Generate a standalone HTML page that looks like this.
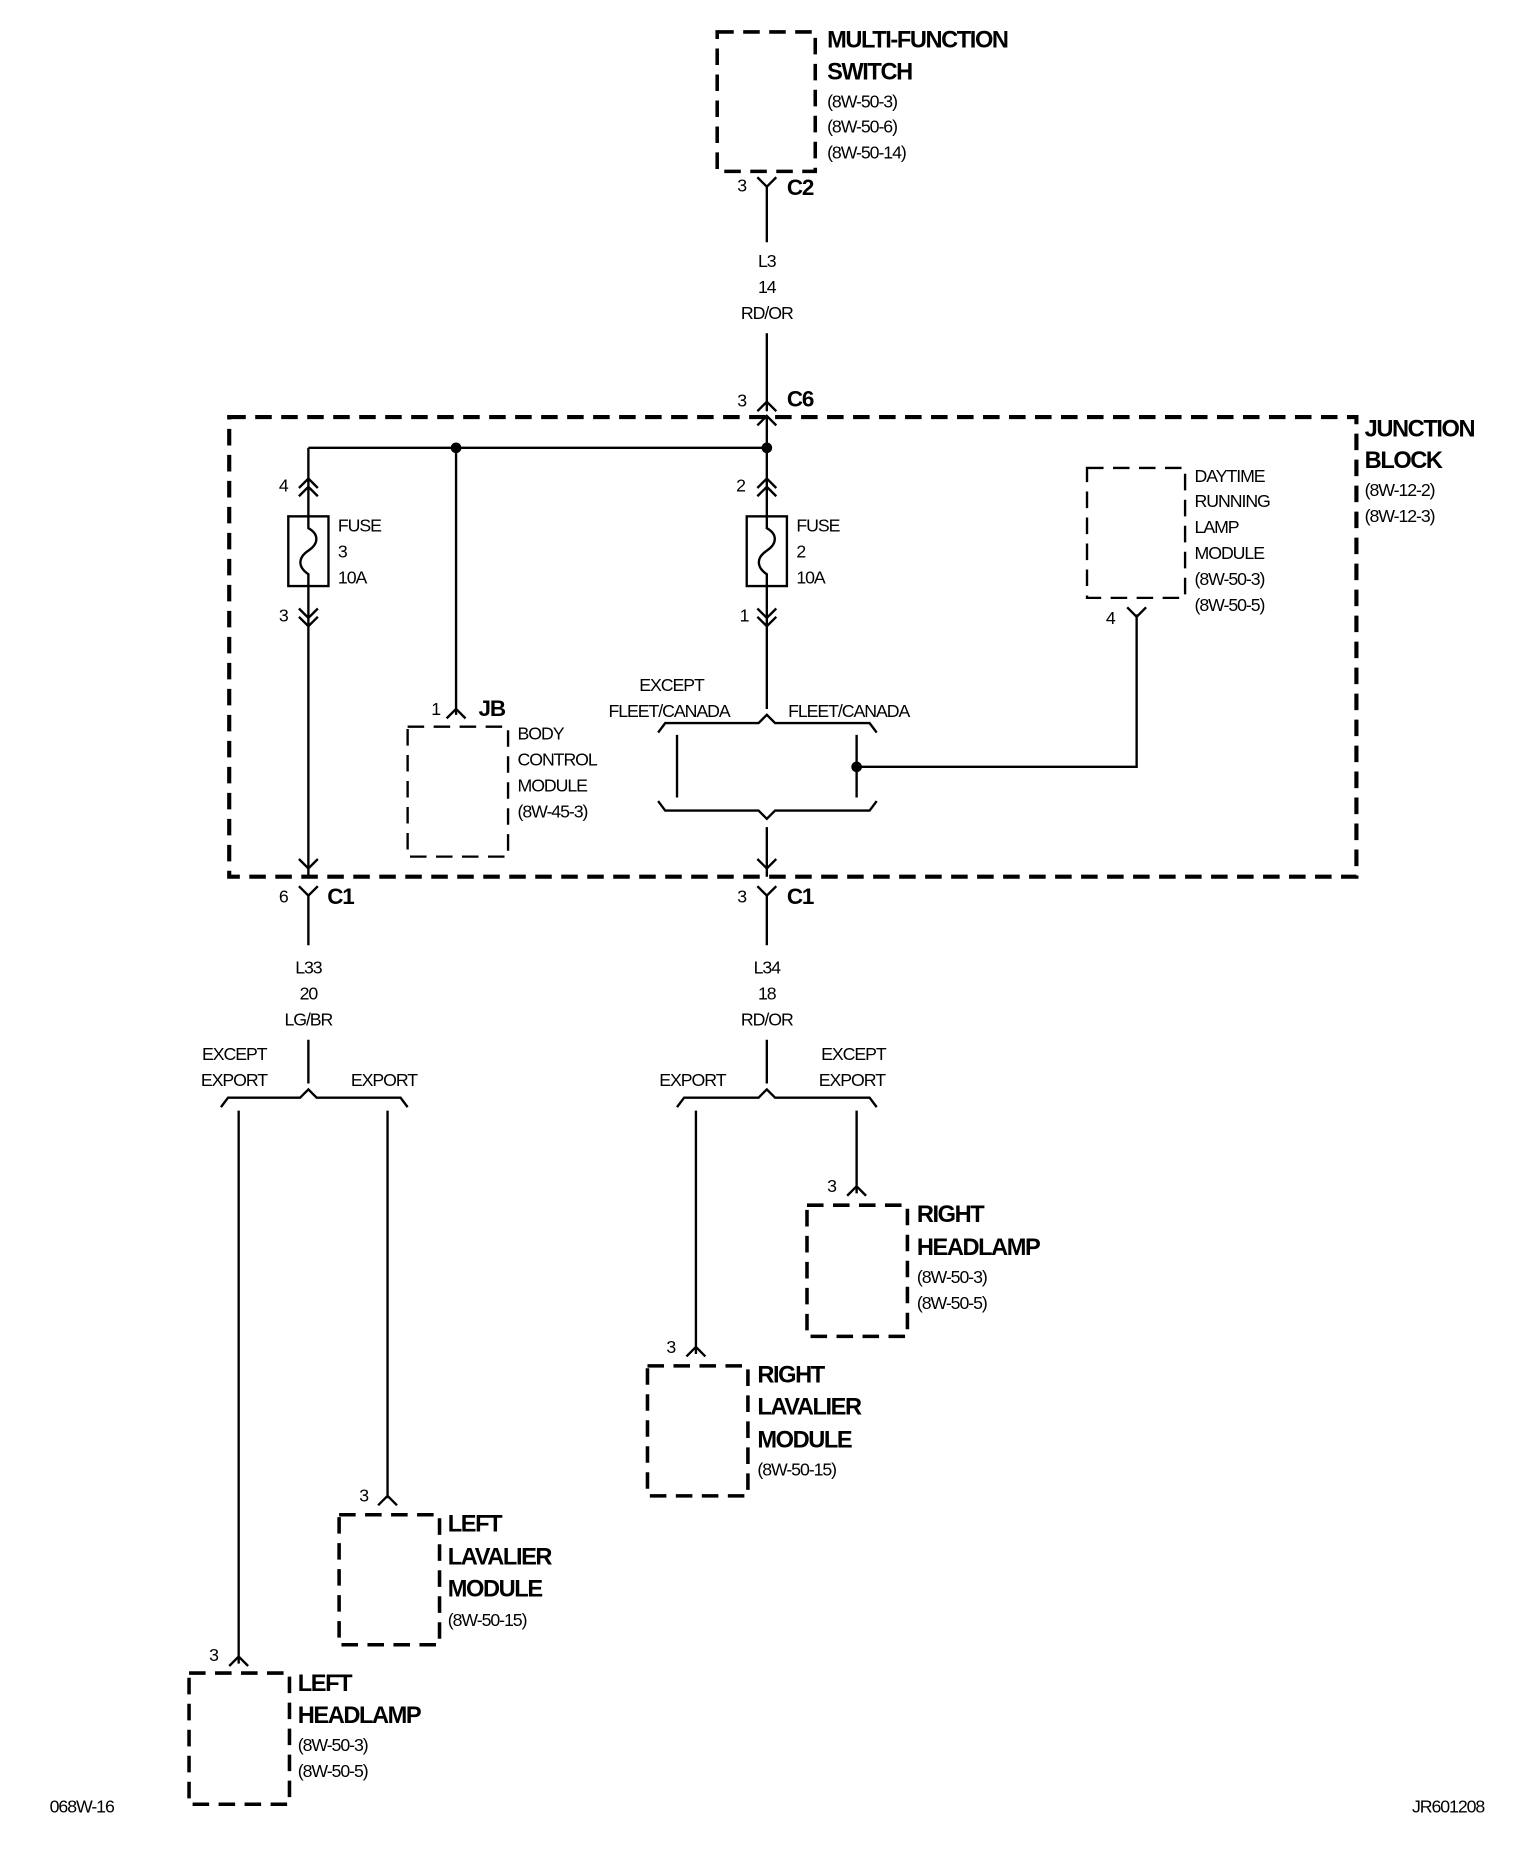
<!DOCTYPE html>
<html><head><meta charset="utf-8"><style>
html,body{margin:0;padding:0;background:#fff;}
svg{display:block}
text{font-family:"Liberation Sans",sans-serif;fill:#000;dominant-baseline:middle;}
.s{font-size:15px;letter-spacing:-0.9px}
.b{font-size:20px;font-weight:bold;letter-spacing:-1.2px}
.c{font-size:19px;font-weight:bold;letter-spacing:-1px}
.m{text-anchor:middle}
</style></head><body>
<svg width="1536" height="1858" viewBox="0 0 1300 1572.5" xmlns="http://www.w3.org/2000/svg">
<g fill="none" stroke="#000" stroke-width="2">
<!-- dashed boxes -->
<g stroke-width="3" stroke-dasharray="14 8">
<rect x="607" y="27" width="83" height="118"/>
<rect x="194" y="353" width="954" height="389" stroke-width="3.5"/>
<rect x="920" y="396" width="83" height="110" stroke-width="2"/>
<rect x="345" y="615" width="85" height="110" stroke-width="2"/>
<rect x="683" y="1020" width="85" height="111"/>
<rect x="548" y="1156" width="85" height="110"/>
<rect x="287" y="1282" width="85" height="110"/>
<rect x="160" y="1416" width="85" height="111"/>
</g>
<!-- top wire -->
<path d="M641 150 L649 158 L657 150 M649 158 V205 M649 282 V348 M641 348 L649 340 L657 348 M641 360 L649 352 L657 360 M649 352 V379"/>
<!-- bus -->
<path d="M261 379 H649"/>
<!-- left fuse path -->
<path d="M261 379 V437 M253 413 L261 405 L269 413 M253 420 L261 412 L269 420"/>
<rect x="244" y="437" width="34" height="59"/>
<path d="M261 437 V447 C270 452 270 460 261 466 C252 472 252 480 261 486 V496 M261 496 V742 M253 515 L261 523 L269 515 M253 522 L261 530 L269 522 M253 727 L261 735 L269 727"/>
<!-- center fuse path -->
<path d="M649 379 V437 M641 413 L649 405 L657 413 M641 420 L649 412 L657 420"/>
<rect x="632" y="437" width="34" height="59"/>
<path d="M649 437 V447 C658 452 658 460 649 466 C640 472 640 480 649 486 V496 M649 496 V600 M641 515 L649 523 L657 515 M641 522 L649 530 L657 522"/>
<!-- BCM -->
<path d="M386 379 V605 M378 608 L386 600 L394 608"/>
<!-- braces -->
<path d="M557 620 L563 612 H642 L649 605 L656 612 H736 L742 620"/>
<path d="M557 678 L563 686 H642 L649 693 L656 686 H736 L742 678"/>
<path d="M573 622 V675 M725 622 V675 M725 649 H962 V520 M954 514 L962 522 L970 514"/>
<path d="M649 700 V742 M641 727 L649 735 L657 727"/>
<!-- C1 below -->
<path d="M253 750 L261 758 L269 750 M261 758 V800 M261 880 V917 M641 750 L649 758 L657 750 M649 758 V800 M649 880 V917"/>
<!-- left bottom brace -->
<path d="M187 937 L193 929 H254 L261 922 L268 929 H339 L345 937"/>
<path d="M202 940 V1408 M194 1410 L202 1402 L210 1410 M328 940 V1268 M320 1274 L328 1266 L336 1274"/>
<!-- right bottom brace -->
<path d="M573 937 L579 929 H642 L649 922 L656 929 H736 L742 937"/>
<path d="M589 940 V1146 M581 1148 L589 1140 L597 1148 M725 940 V1010 M717 1012 L725 1004 L733 1012"/>
</g>
<g fill="#000"><circle cx="386" cy="379" r="4.5"/><circle cx="649" cy="379" r="4.5"/><circle cx="725" cy="649" r="4.5"/></g>
<!-- text -->
<text class="b" x="700" y="35">MULTI-FUNCTION</text>
<text class="b" x="700" y="62">SWITCH</text>
<text class="s" x="700" y="87">(8W-50-3)</text>
<text class="s" x="700" y="108">(8W-50-6)</text>
<text class="s" x="700" y="130">(8W-50-14)</text>
<text class="s" x="624" y="158">3</text><text class="c" x="666" y="160">C2</text>
<text class="s m" x="649" y="222">L3</text><text class="s m" x="649" y="244">14</text><text class="s m" x="649" y="266">RD/OR</text>
<text class="s" x="624" y="340">3</text><text class="c" x="666" y="339">C6</text>
<text class="b" x="1155" y="364">JUNCTION</text>
<text class="b" x="1155" y="391">BLOCK</text>
<text class="s" x="1155" y="416">(8W-12-2)</text>
<text class="s" x="1155" y="438">(8W-12-3)</text>
<text class="s" x="236" y="412">4</text><text class="s" x="236" y="522">3</text>
<text class="s" x="286" y="446">FUSE</text><text class="s" x="286" y="468">3</text><text class="s" x="286" y="490">10A</text>
<text class="s" x="623" y="412">2</text><text class="s" x="626" y="522">1</text>
<text class="s" x="674" y="446">FUSE</text><text class="s" x="674" y="468">2</text><text class="s" x="674" y="490">10A</text>
<text class="s" x="1011" y="404">DAYTIME</text><text class="s" x="1011" y="425">RUNNING</text><text class="s" x="1011" y="447">LAMP</text><text class="s" x="1011" y="469">MODULE</text><text class="s" x="1011" y="491">(8W-50-3)</text><text class="s" x="1011" y="513">(8W-50-5)</text>
<text class="s" x="936" y="524">4</text>
<text class="s" x="365" y="601">1</text><text class="c" x="405" y="601">JB</text>
<text class="s" x="438" y="622">BODY</text><text class="s" x="438" y="644">CONTROL</text><text class="s" x="438" y="666">MODULE</text><text class="s" x="438" y="688">(8W-45-3)</text>
<text class="s" x="541" y="581">EXCEPT</text><text class="s" x="515" y="603">FLEET/CANADA</text><text class="s" x="667" y="603">FLEET/CANADA</text>
<text class="s" x="236" y="760">6</text><text class="c" x="277" y="760">C1</text>
<text class="s" x="624" y="760">3</text><text class="c" x="666" y="760">C1</text>
<text class="s m" x="261" y="820">L33</text><text class="s m" x="261" y="842">20</text><text class="s m" x="261" y="864">LG/BR</text>
<text class="s m" x="649" y="820">L34</text><text class="s m" x="649" y="842">18</text><text class="s m" x="649" y="864">RD/OR</text>
<text class="s" x="171" y="893">EXCEPT</text><text class="s" x="170" y="915">EXPORT</text><text class="s" x="297" y="915">EXPORT</text>
<text class="s" x="558" y="915">EXPORT</text><text class="s" x="695" y="893">EXCEPT</text><text class="s" x="693" y="915">EXPORT</text>
<text class="s" x="700" y="1005">3</text>
<text class="b" x="776" y="1029">RIGHT</text><text class="b" x="776" y="1057">HEADLAMP</text><text class="s" x="776" y="1082">(8W-50-3)</text><text class="s" x="776" y="1104">(8W-50-5)</text>
<text class="s" x="564" y="1141">3</text>
<text class="b" x="641" y="1165">RIGHT</text><text class="b" x="641" y="1192">LAVALIER</text><text class="b" x="641" y="1220">MODULE</text><text class="s" x="641" y="1245">(8W-50-15)</text>
<text class="s" x="304" y="1267">3</text>
<text class="b" x="379" y="1291">LEFT</text><text class="b" x="379" y="1319">LAVALIER</text><text class="b" x="379" y="1346">MODULE</text><text class="s" x="379" y="1372">(8W-50-15)</text>
<text class="s" x="177" y="1402">3</text>
<text class="b" x="252" y="1426">LEFT</text><text class="b" x="252" y="1453">HEADLAMP</text><text class="s" x="252" y="1478">(8W-50-3)</text><text class="s" x="252" y="1500">(8W-50-5)</text>
<text class="s" x="42" y="1530">068W-16</text>
<text class="s" x="1195" y="1530">JR601208</text>
</svg>
</body></html>
